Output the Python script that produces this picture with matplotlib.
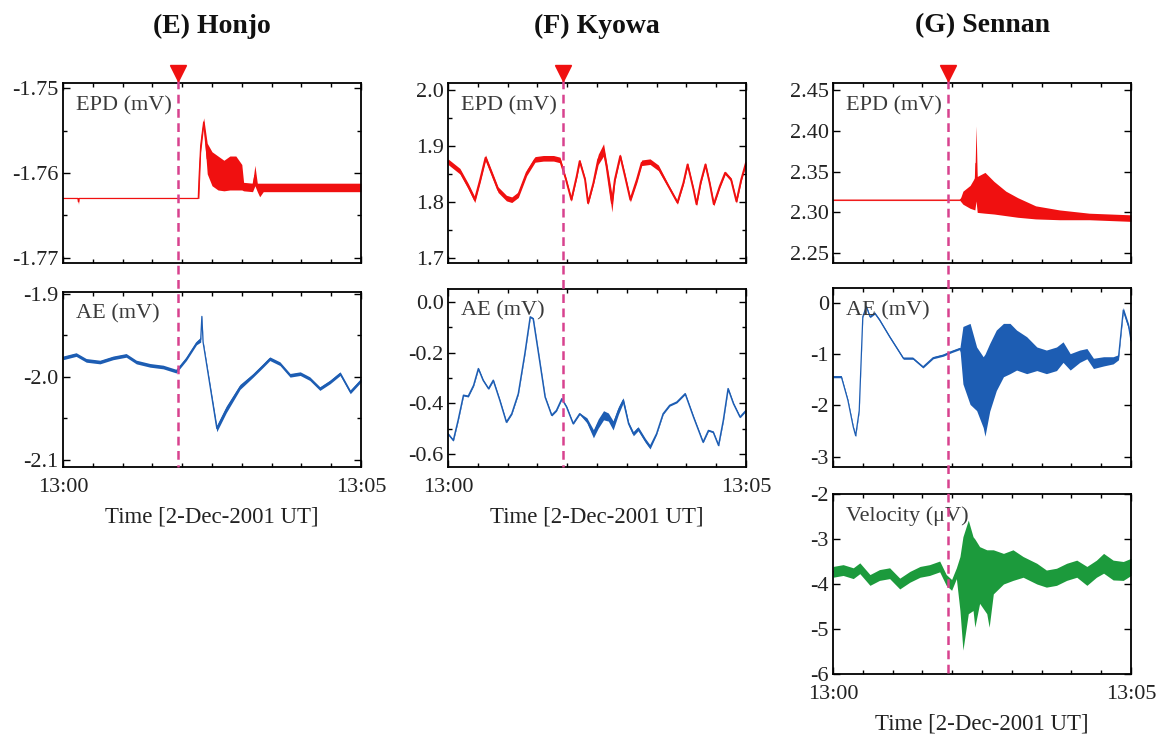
import numpy as np
import matplotlib
matplotlib.use("Agg")
import matplotlib.pyplot as plt
from matplotlib.lines import Line2D
from matplotlib.transforms import blended_transform_factory

plt.rcParams['font.family'] = ['Liberation Serif', 'DejaVu Serif']

# ---- data (time in minutes after 13:00 UT) ----
event_t = 1.93
time_ticks = [0, 5]
time_labels = ["13:00", "13:05"]
titles = ["(E) Honjo", "(F) Kyowa", "(G) Sennan"]
xlabel = "Time [2-Dec-2001 UT]"

# Honjo EPD
hon_epd_t = [0.00, 0.25, 0.26, 0.27, 2.27, 2.28, 2.31, 2.36, 2.42, 2.50, 2.60, 2.70, 2.80,
             2.90, 3.00, 3.03, 3.18, 3.22, 3.26, 3.30, 3.36, 3.70, 4.20, 4.60, 5.00]
hon_epd_mid = [-1.7630, -1.7630, -1.7634, -1.7630, -1.7630, -1.7610, -1.7568, -1.7540, -1.7583,
               -1.7595, -1.7600, -1.7603, -1.7600, -1.7600, -1.7605, -1.7616, -1.7617, -1.7603,
               -1.7617, -1.7620, -1.7617, -1.7617, -1.7617, -1.7617, -1.7617]
hon_epd_spread = [0, 0, 0.0003, 0, 0, 0.0020, 0.0008, 0.0005, 0.0018, 0.0020, 0.0020, 0.0018,
                  0.0020, 0.0020, 0.0015, 0.0005, 0.0005, 0.0012, 0.0005, 0.0008, 0.0005,
                  0.0005, 0.0005, 0.0005, 0.0005]

# Honjo AE
hon_ae_t = [0.00, 0.22, 0.39, 0.62, 0.84, 1.06, 1.23, 1.46, 1.68, 1.90, 2.07, 2.24, 2.31, 2.33,
            2.35, 2.58, 2.74, 2.97, 3.19, 3.36, 3.47, 3.64, 3.81, 3.98, 4.14, 4.31, 4.48, 4.65,
            4.82, 5.00]
hon_ae_mid = [-1.977, -1.973, -1.980, -1.982, -1.977, -1.974, -1.982, -1.986, -1.988, -1.993,
              -1.978, -1.959, -1.955, -1.927, -1.958, -2.062, -2.039, -2.012, -1.998, -1.986,
              -1.978, -1.984, -1.998, -1.996, -2.002, -2.014, -2.006, -1.996, -2.018, -2.004]
hon_ae_spread = [0.0022] * 12 + [0.003, 0.001, 0.002, 0.004, 0.004, 0.003] + [0.0022] * 12

# Kyowa EPD
kyo_epd_t = [0.00, 0.20, 0.34, 0.45, 0.54, 0.63, 0.73, 0.84, 0.98, 1.07, 1.18, 1.32, 1.46, 1.60,
             1.77, 1.88, 1.98, 2.07, 2.16, 2.21, 2.30, 2.35, 2.44, 2.52, 2.61, 2.66, 2.75, 2.80,
             2.89, 2.97, 3.06, 3.17, 3.25, 3.39, 3.53, 3.70, 3.85, 3.95, 4.02, 4.12, 4.17, 4.24,
             4.32, 4.39, 4.46, 4.56, 4.65, 4.75, 4.84, 4.92, 5.00]
kyo_epd_mid = [1.872, 1.855, 1.828, 1.804, 1.840, 1.879, 1.852, 1.822, 1.807, 1.804, 1.813, 1.852,
               1.876, 1.878, 1.878, 1.875, 1.840, 1.804, 1.846, 1.873, 1.840, 1.798, 1.834, 1.876,
               1.893, 1.864, 1.798, 1.840, 1.882, 1.846, 1.804, 1.840, 1.870, 1.872, 1.861, 1.828,
               1.799, 1.834, 1.867, 1.822, 1.796, 1.835, 1.867, 1.834, 1.796, 1.828, 1.852, 1.840,
               1.801, 1.840, 1.870]
kyo_epd_spread = ([0.005] * 16 + [0.003] * 7 + [0.009, 0.011, 0.008, 0.016]
                  + [0.004] * 4 + [0.005] * 4 + [0.003] * 16)

# Kyowa AE
kyo_ae_t = [0.00, 0.09, 0.17, 0.26, 0.34, 0.43, 0.51, 0.59, 0.68, 0.76, 0.87, 0.98, 1.07, 1.18,
            1.29, 1.38, 1.43, 1.52, 1.63, 1.74, 1.82, 1.91, 1.99, 2.10, 2.21, 2.33, 2.44, 2.52,
            2.61, 2.69, 2.77, 2.86, 2.94, 3.03, 3.11, 3.19, 3.31, 3.39, 3.50, 3.61, 3.72, 3.84,
            3.98, 4.12, 4.28, 4.37, 4.45, 4.54, 4.62, 4.70, 4.79, 4.90, 5.00]
kyo_ae_mid = [-0.520, -0.546, -0.467, -0.368, -0.372, -0.329, -0.263, -0.309, -0.342, -0.309,
              -0.388, -0.474, -0.441, -0.362, -0.204, -0.059, -0.066, -0.204, -0.375, -0.447,
              -0.428, -0.382, -0.414, -0.480, -0.441, -0.467, -0.520, -0.480, -0.447, -0.454,
              -0.487, -0.428, -0.388, -0.480, -0.520, -0.500, -0.546, -0.572, -0.520, -0.441,
              -0.408, -0.395, -0.362, -0.454, -0.553, -0.507, -0.513, -0.566, -0.467, -0.342,
              -0.401, -0.454, -0.428]
kyo_ae_spread = ([0.003] * 25 + [0.010, 0.016, 0.018, 0.018, 0.016, 0.018, 0.015, 0.010]
                 + [0.007, 0.008, 0.008, 0.008, 0.008] + [0.003] * 15)

# Sennan EPD
sen_epd_t = [0.00, 2.13, 2.18, 2.30, 2.38, 2.40, 2.42, 2.55, 2.70, 2.90, 3.10, 3.40, 3.80, 4.30, 5.00]
sen_epd_mid = [2.315, 2.315, 2.318, 2.319, 2.323, 2.360, 2.322, 2.324, 2.318, 2.311, 2.306,
               2.300, 2.297, 2.295, 2.293]
sen_epd_spread = [0.0005, 0.0005, 0.008, 0.014, 0.020, 0.046, 0.022, 0.025, 0.020, 0.015,
                  0.012, 0.008, 0.006, 0.004, 0.004]

# Sennan AE
sen_ae_t = [0.00, 0.14, 0.25, 0.34, 0.38, 0.44, 0.50, 0.56, 0.62, 0.70, 0.78, 0.95, 1.18, 1.34,
            1.51, 1.68, 1.85, 1.99, 2.13, 2.18, 2.30, 2.41, 2.52, 2.55, 2.63, 2.74, 2.86, 2.97,
            3.08, 3.25, 3.42, 3.58, 3.75, 3.86, 3.98, 4.14, 4.26, 4.37, 4.54, 4.70, 4.79, 4.87,
            4.96, 5.00]
sen_ae_mid = [-1.44, -1.44, -1.90, -2.42, -2.59, -2.10, -0.27, -0.07, -0.27, -0.20, -0.33, -0.66,
              -1.08, -1.08, -1.25, -1.07, -1.02, -0.95, -0.89, -1.02, -1.19, -1.48, -1.74, -1.80,
              -1.45, -1.12, -0.92, -0.89, -0.92, -1.02, -1.09, -1.15, -1.09, -0.96, -1.15, -1.04,
              -0.99, -1.18, -1.14, -1.12, -1.06, -0.14, -0.46, -0.73]
sen_ae_spread = ([0.02] * 19 + [0.56, 0.79, 0.62, 0.69, 0.80, 0.66, 0.59, 0.52, 0.49, 0.39,
                                0.36, 0.23, 0.23, 0.23, 0.20, 0.16, 0.12, 0.10, 0.10, 0.09,
                                0.07, 0.05, 0.05, 0.05, 0.05])

# Sennan velocity
sen_vel_t = [0.00, 0.17, 0.34, 0.45, 0.62, 0.78, 0.95, 1.12, 1.29, 1.46, 1.62, 1.79, 1.90, 1.99,
             2.07, 2.13, 2.18, 2.27, 2.35, 2.38, 2.46, 2.58, 2.62, 2.69, 2.86, 3.02, 3.19, 3.42,
             3.58, 3.75, 3.92, 4.09, 4.26, 4.42, 4.54, 4.70, 4.87, 5.00]
sen_vel_mid = [-3.73, -3.69, -3.76, -3.65, -3.91, -3.80, -3.76, -3.99, -3.84, -3.73, -3.69, -3.61,
               -3.91, -4.02, -3.76, -3.99, -4.21, -3.62, -3.77, -3.98, -3.80, -3.95, -4.10, -3.73,
               -3.66, -3.58, -3.62, -3.77, -3.88, -3.84, -3.73, -3.66, -3.82, -3.66, -3.54, -3.69,
               -3.71, -3.62]
sen_vel_spread = ([0.12] * 15 + [0.60, 1.26, 1.04, 0.82, 0.98, 0.63, 0.71, 0.86, 0.49, 0.34,
                                 0.34, 0.23, 0.23, 0.19, 0.19, 0.19, 0.19, 0.21, 0.19, 0.22,
                                 0.22, 0.21, 0.19])

RED = "#f01010"
BLUE = "#1d5db3"
GREEN = "#1c9a3c"
DASH = "#d8428f"
TXT = "#222222"

W, H = 1168, 747
fig = plt.figure(figsize=(W / 100, H / 100), dpi=100)


def panel(x, y, w, h):
    return fig.add_axes([x / W, 1 - (y + h) / H, w / W, h / H])


def draw(ax, t, mid, spread, color, lw=0.9):
    mid = np.array(mid)
    spread = np.array(spread)
    ax.fill_between(t, mid - spread, mid + spread, color=color, lw=0)
    ax.plot(t, mid, color=color, lw=lw)


def style(ax, ylim, yticks, ylabels, label, minor=None, bottom=False):
    ax.set_xlim(0, 5)
    ax.set_ylim(ylim)
    ax.set_xticks(time_ticks)
    ax.set_xticks([0.5, 1, 1.5, 2, 2.5, 3, 3.5, 4, 4.5], minor=True)
    ax.set_yticks(yticks)
    ax.set_yticklabels(ylabels, fontsize=16, color=TXT)
    if minor is not None:
        ax.set_yticks(minor, minor=True)
    if bottom:
        ax.set_xticklabels(time_labels, fontsize=16, color=TXT)
        ax.set_xlabel(xlabel, fontsize=16.5, color=TXT, labelpad=7)
    else:
        ax.set_xticklabels([])
    ax.tick_params(which='both', direction='in', top=True, right=True, width=1)
    ax.tick_params(which='major', length=5, pad=3)
    ax.tick_params(which='minor', length=3)
    ax.tick_params(axis='x', which='major', pad=8)
    for s in ax.spines.values():
        s.set_linewidth(1.3)
    ax.text(0.045, 0.875, label, transform=ax.transAxes, fontsize=16, color="#3a3a3a",
            va='center', ha='left')


cols = [63, 448, 833]
PW = 298

# Honjo
a1 = panel(cols[0], 83, PW, 180)
draw(a1, hon_epd_t, hon_epd_mid, hon_epd_spread, RED)
style(a1, (-1.7706, -1.7494), [-1.75, -1.76, -1.77], ["-1.75", "-1.76", "-1.77"], "EPD (mV)",
      minor=[-1.755, -1.765])
a2 = panel(cols[0], 292, PW, 175)
draw(a2, hon_ae_t, hon_ae_mid, hon_ae_spread, BLUE)
style(a2, (-2.1085, -1.8976), [-1.9, -2.0, -2.1], ["-1.9", "-2.0", "-2.1"], "AE (mV)",
      minor=[-1.95, -2.05], bottom=True)

# Kyowa
b1 = panel(cols[1], 83, PW, 180)
draw(b1, kyo_epd_t, kyo_epd_mid, kyo_epd_spread, RED, lw=1.4)
style(b1, (1.691, 2.0125), [2.0, 1.9, 1.8, 1.7], ["2.0", "1.9", "1.8", "1.7"], "EPD (mV)",
      minor=[1.95, 1.85, 1.75])
b2 = panel(cols[1], 289, PW, 178)
draw(b2, kyo_ae_t, kyo_ae_mid, kyo_ae_spread, BLUE, lw=1.1)
style(b2, (-0.651, 0.051), [0.0, -0.2, -0.4, -0.6], ["0.0", "-0.2", "-0.4", "-0.6"], "AE (mV)",
      minor=[-0.1, -0.3, -0.5], bottom=True)

# Sennan
c1 = panel(cols[2], 83, PW, 180)
draw(c1, sen_epd_t, sen_epd_mid, sen_epd_spread, RED)
style(c1, (2.238, 2.4585), [2.45, 2.40, 2.35, 2.30, 2.25], ["2.45", "2.40", "2.35", "2.30", "2.25"],
      "EPD (mV)")
c2 = panel(cols[2], 288, PW, 179)
draw(c2, sen_ae_t, sen_ae_mid, sen_ae_spread, BLUE)
style(c2, (-3.2, 0.29), [0, -1, -2, -3], ["0", "-1", "-2", "-3"], "AE (mV)")
c3 = panel(cols[2], 494, PW, 180)
draw(c3, sen_vel_t, sen_vel_mid, sen_vel_spread, GREEN)
style(c3, (-6, -2), [-2, -3, -4, -5, -6], ["-2", "-3", "-4", "-5", "-6"], "Velocity (\u03bcV)",
      bottom=True)

# titles, event markers and dashed lines
for ax_top, ax_bot, title in [(a1, a2, titles[0]), (b1, b2, titles[1]), (c1, c3, titles[2])]:
    pos = ax_top.get_position()
    fig.text(pos.x0 + pos.width / 2, 1 - 26 / H, title, fontsize=20, fontweight='bold',
             ha='center', va='center', color="#111111")
    tr = blended_transform_factory(ax_top.transData, fig.transFigure)
    y_bot = ax_bot.get_position().y0
    fig.add_artist(Line2D([event_t, event_t], [1 - 80 / H, y_bot], transform=tr, color=DASH,
                          lw=1.8, ls=(0, (3.5, 2.2)), zorder=5))
    fig.add_artist(Line2D([event_t], [1 - 73 / H], transform=tr, marker='v', ms=12,
                          color=RED, ls='none', zorder=6))

fig.savefig("out.png", dpi=100)
